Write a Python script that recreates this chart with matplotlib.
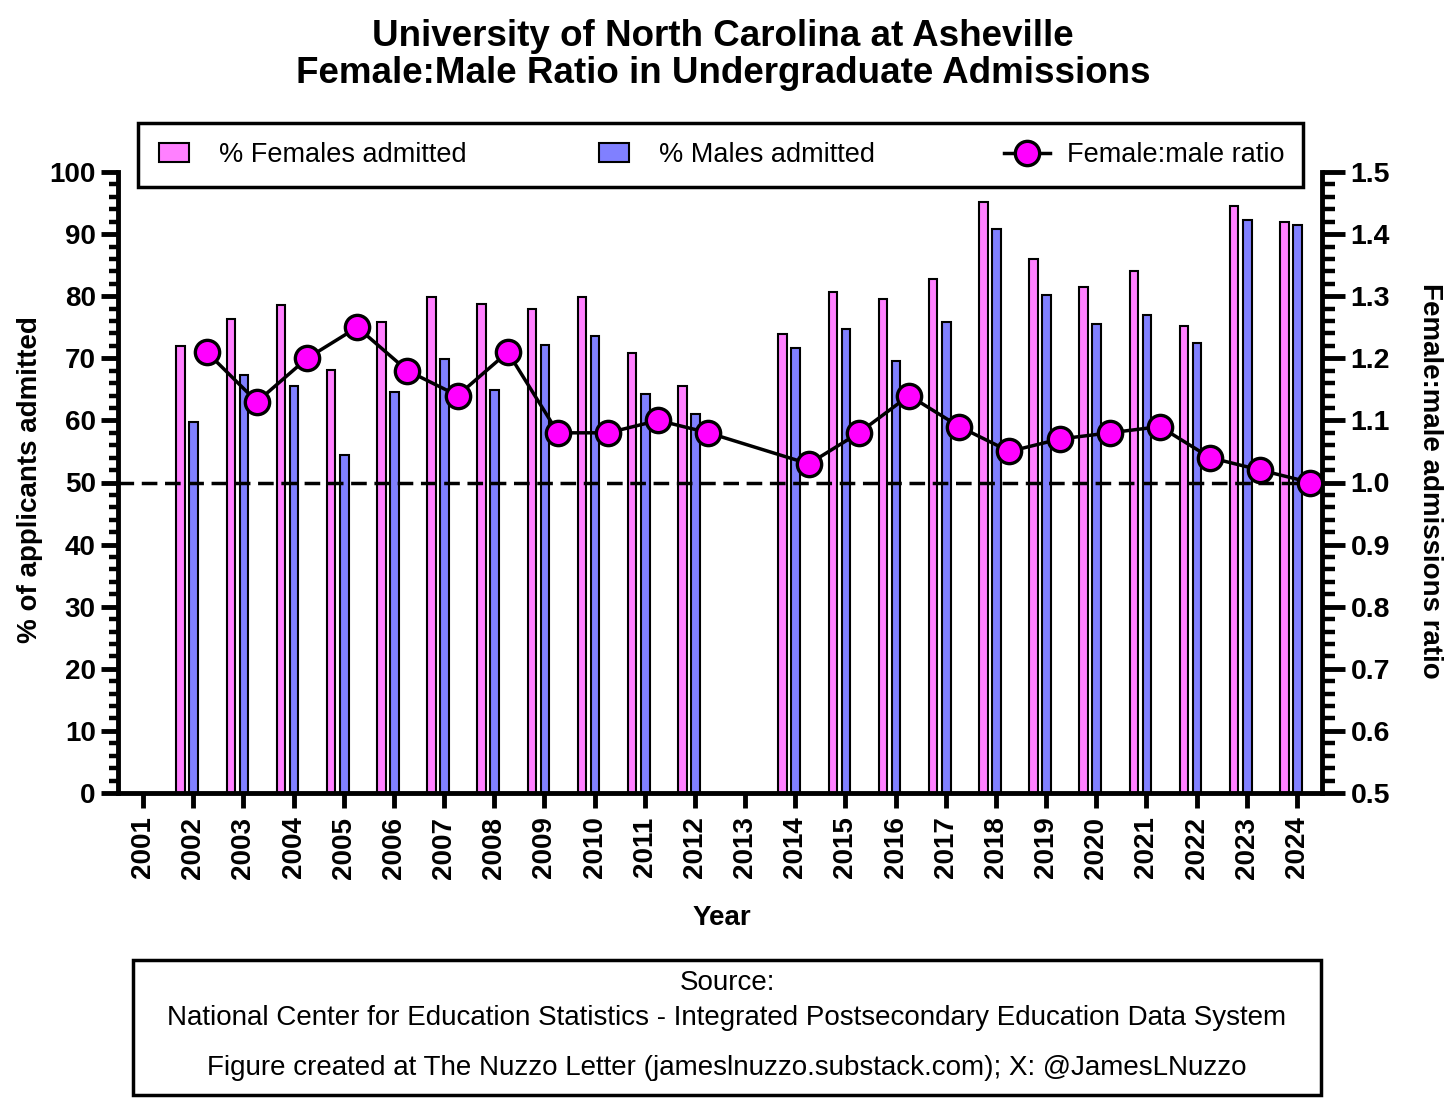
"""
UNC Asheville - female:male ratio in undergraduate admissions
"""
import numpy as np
import matplotlib
matplotlib.use('Agg')
import matplotlib.pyplot as plt
import matplotlib.patches as mpatches
from matplotlib.lines import Line2D
from matplotlib.legend_handler import HandlerPatch
from matplotlib.ticker import MultipleLocator, FormatStrFormatter

plt.rcParams['font.family'] = ['Liberation Sans', 'DejaVu Sans']

# data
years = list(range(2001, 2025))
female_pct = [np.nan, 72.0, 76.4, 78.6, 68.1, 75.8, 79.9, 78.7, 78.0, 79.8, 70.9, 65.6,
              np.nan, 73.9, 80.6, 79.6, 82.8, 95.2, 86.0, 81.5, 84.1, 75.2, 94.6, 92.0]
male_pct = [np.nan, 59.8, 67.3, 65.6, 54.5, 64.5, 69.9, 64.9, 72.1, 73.6, 64.2, 61.0,
            np.nan, 71.6, 74.7, 69.6, 75.8, 90.9, 80.2, 75.6, 76.9, 72.4, 92.3, 91.5]
ratio = [np.nan, 1.21, 1.13, 1.20, 1.25, 1.18, 1.14, 1.21, 1.08, 1.08, 1.10, 1.08,
         np.nan, 1.03, 1.08, 1.14, 1.09, 1.05, 1.07, 1.08, 1.09, 1.04, 1.02, 1.00]

PINK = '#FF80FF'
BLUE = '#8080FF'
MAGENTA = '#FF00FF'

x = np.array(years, dtype=float)
fem = np.array(female_pct)
mal = np.array(male_pct)
rat = np.array(ratio)
ok = ~np.isnan(fem)

fig = plt.figure(figsize=(14.56, 11.02), dpi=100)
ax = fig.add_axes([118 / 1456, 1 - 793 / 1102, (1322 - 118) / 1456, (793 - 172) / 1102])
ax2 = ax.twinx()

# bars
ax.bar(x[ok] - 0.25, fem[ok], width=0.17, color=PINK, edgecolor='black', linewidth=1.5, zorder=2)
ax.bar(x[ok] + 0.01, mal[ok], width=0.17, color=BLUE, edgecolor='black', linewidth=1.5, zorder=2)
ax.axhline(50, color='black', linestyle=(0, (4.5, 2.2)), linewidth=2.5, zorder=3)

# ratio line (2013 missing, line joins 2012 to 2014)
ax2.plot(x[ok] + 0.27, rat[ok], color='black', linewidth=2.5, marker='o', markersize=17.5,
         markerfacecolor=MAGENTA, markeredgecolor='black', markeredgewidth=2.4, zorder=4)

# left axis
ax.set_xlim(2000.5, 2024.5)
ax.set_ylim(0, 100)
ax.yaxis.set_major_locator(MultipleLocator(10))
ax.yaxis.set_minor_locator(MultipleLocator(2))
ax.set_xticks(years)
ax.set_xticklabels([str(y) for y in years], rotation=90, fontsize=20, fontweight='bold')
for lbl in ax.get_yticklabels():
    lbl.set_fontsize(20)
    lbl.set_fontweight('bold')
ax.tick_params(axis='y', which='major', direction='out', length=12, width=3.5, pad=4)
ax.tick_params(axis='y', which='minor', direction='out', length=6.5, width=3.2)
ax.tick_params(axis='x', which='major', direction='out', length=11, width=3.5, pad=6)
ax.tick_params(axis='x', which='minor', bottom=False)
for side in ['top', 'right']:
    ax.spines[side].set_visible(False)
for side in ['left', 'bottom']:
    ax.spines[side].set_linewidth(3.5)

# right axis
ax2.set_ylim(0.5, 1.5)
ax2.yaxis.set_major_locator(MultipleLocator(0.1))
ax2.yaxis.set_minor_locator(MultipleLocator(0.02))
ax2.yaxis.set_major_formatter(FormatStrFormatter('%.1f'))
for lbl in ax2.get_yticklabels():
    lbl.set_fontsize(20.5)
    lbl.set_fontweight('bold')
ax2.tick_params(axis='y', which='major', direction='out', length=16.5, width=3.5, pad=4)
ax2.tick_params(axis='y', which='minor', direction='out', length=9.5, width=3.2)
for side in ['top', 'left', 'bottom']:
    ax2.spines[side].set_visible(False)
ax2.spines['right'].set_linewidth(3.5)

# titles and axis labels
fig.text(723 / 1456, 1 - 55 / 1102,
         'University of North Carolina at Asheville\nFemale:Male Ratio in Undergraduate Admissions',
         ha='center', va='center', fontsize=26.5, fontweight='bold', linespacing=1.1)
fig.text(722 / 1456, 1 - 918 / 1102, 'Year', ha='center', va='center', fontsize=20, fontweight='bold')
fig.text(30 / 1456, 1 - 480 / 1102, '% of applicants admitted', ha='center', va='center',
         rotation=90, fontsize=20, fontweight='bold')
fig.text(1430 / 1456, 1 - 481 / 1102, 'Female:male admissions ratio', ha='center', va='center',
         rotation=270, fontsize=20, fontweight='bold')


# legend
def small_rect(legend, orig_handle, xdescent, ydescent, width, height, fontsize):
    return mpatches.Rectangle((-xdescent + 0.05 * width, -ydescent), 0.65 * width, height)


h_f = mpatches.Patch(facecolor=PINK, edgecolor='black', linewidth=1.5, label='% Females admitted')
h_m = mpatches.Patch(facecolor=BLUE, edgecolor='black', linewidth=1.5, label='% Males admitted')
h_r = Line2D([], [], color='black', linewidth=2.5, marker='o', markersize=17.5,
             markerfacecolor=MAGENTA, markeredgecolor='black', markeredgewidth=2.4,
             label='Female:male ratio')
leg = fig.legend(handles=[h_f, h_m, h_r], loc='center', mode='expand', ncol=3,
                 bbox_to_anchor=(138 / 1456, 1 - 190 / 1102, 1165 / 1456, 70 / 1102),
                 fontsize=19.5, frameon=True, fancybox=False, framealpha=1,
                 borderpad=0.7, borderaxespad=0, handlelength=1.7, handletextpad=0.6,
                 handler_map={mpatches.Patch: HandlerPatch(patch_func=small_rect)})
leg.get_frame().set_edgecolor('black')
leg.get_frame().set_linewidth(2.5)

# source box
fig.add_artist(mpatches.Rectangle((133 / 1456, 1 - 1095 / 1102), 1188 / 1456, 135 / 1102,
                                  transform=fig.transFigure, fill=False,
                                  edgecolor='black', linewidth=2.5))
fig.text(727 / 1456, 1 - 983 / 1102, 'Source:', ha='center', va='center', fontsize=20)
fig.text(727 / 1456, 1 - 1018 / 1102,
         'National Center for Education Statistics - Integrated Postsecondary Education Data System',
         ha='center', va='center', fontsize=20)
fig.text(727 / 1456, 1 - 1068 / 1102,
         'Figure created at The Nuzzo Letter (jameslnuzzo.substack.com); X: @JamesLNuzzo',
         ha='center', va='center', fontsize=20)

fig.savefig('out.png', dpi=100)
